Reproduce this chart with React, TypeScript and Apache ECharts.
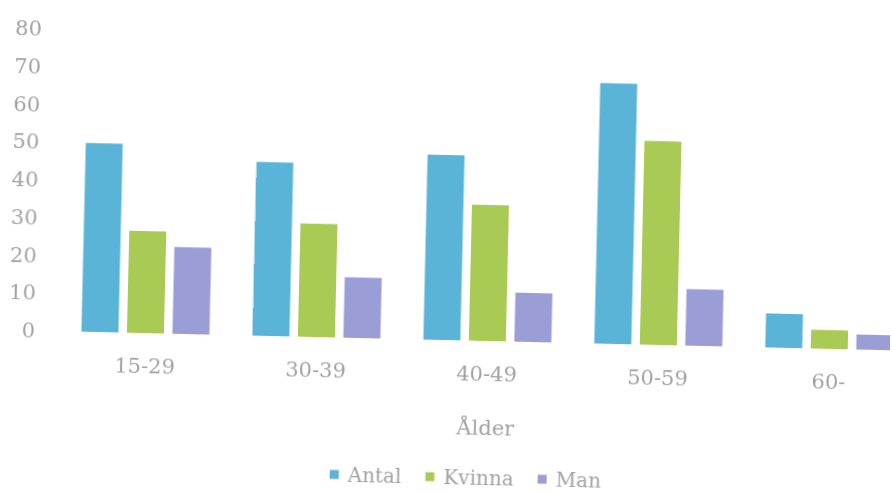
import React, { useEffect, useRef } from "react";
import * as echarts from "echarts";

const categories = ["15-29", "30-39", "40-49", "50-59", "60-"];
const antal = [50, 46, 49, 69, 9];
const kvinna = [27, 30, 36, 54, 5];
const man = [23, 16, 13, 15, 4];
const seriesNames = ["Antal", "Kvinna", "Man"];
const colors = ["#5ab4d7", "#a9cb55", "#9b9dd7"];
const xAxisTitle = "Ålder";

const FONT = "'DejaVu Serif', serif";
const TEXT = "#a2a2a2";

export default function App() {
  const ref = useRef<HTMLDivElement>(null);
  useEffect(() => {
    if (!ref.current) return;
    const chart = echarts.init(ref.current, null, { renderer: "svg" });
    const data = [antal, kvinna, man];
    chart.setOption({
      animation: false,
      backgroundColor: "#ffffff",
      grid: { left: 62, top: 38, width: 855, bottom: 153, outerBoundsMode: "none", containLabel: false },
      legend: {
        top: 462,
        left: 330,
        itemWidth: 9,
        itemHeight: 9,
        itemGap: 24,
        icon: "rect",
        textStyle: { color: TEXT, fontFamily: FONT, fontSize: 20, padding: [0, 0, 0, 4] },
        data: seriesNames,
      },
      xAxis: {
        type: "category",
        data: categories,
        name: xAxisTitle,
        nameLocation: "middle",
        nameGap: 76,
        nameTextStyle: { color: TEXT, fontFamily: FONT, fontSize: 21 },
        axisLine: { show: false },
        axisTick: { show: false },
        axisLabel: { color: TEXT, fontFamily: FONT, fontSize: 21, margin: 22 },
      },
      yAxis: {
        type: "value",
        min: 0,
        max: 80,
        interval: 10,
        axisLine: { show: false },
        axisTick: { show: false },
        splitLine: { show: false },
        axisLabel: { color: TEXT, fontFamily: FONT, fontSize: 21, margin: 25 },
      },
      series: seriesNames.map((name, i) => ({
        name,
        type: "bar",
        data: data[i],
        barWidth: 37,
        barGap: "23%",
        itemStyle: { color: colors[i] },
      })),
    });
    return () => chart.dispose();
  }, []);
  return (
    <div
      ref={ref}
      style={{
        position: "fixed",
        left: 0,
        top: 0,
        width: 892,
        height: 493,
        background: "#fff",
        transform: "rotate(1.32deg)",
        transformOrigin: "446px 246px",
      }}
    />
  );
}
